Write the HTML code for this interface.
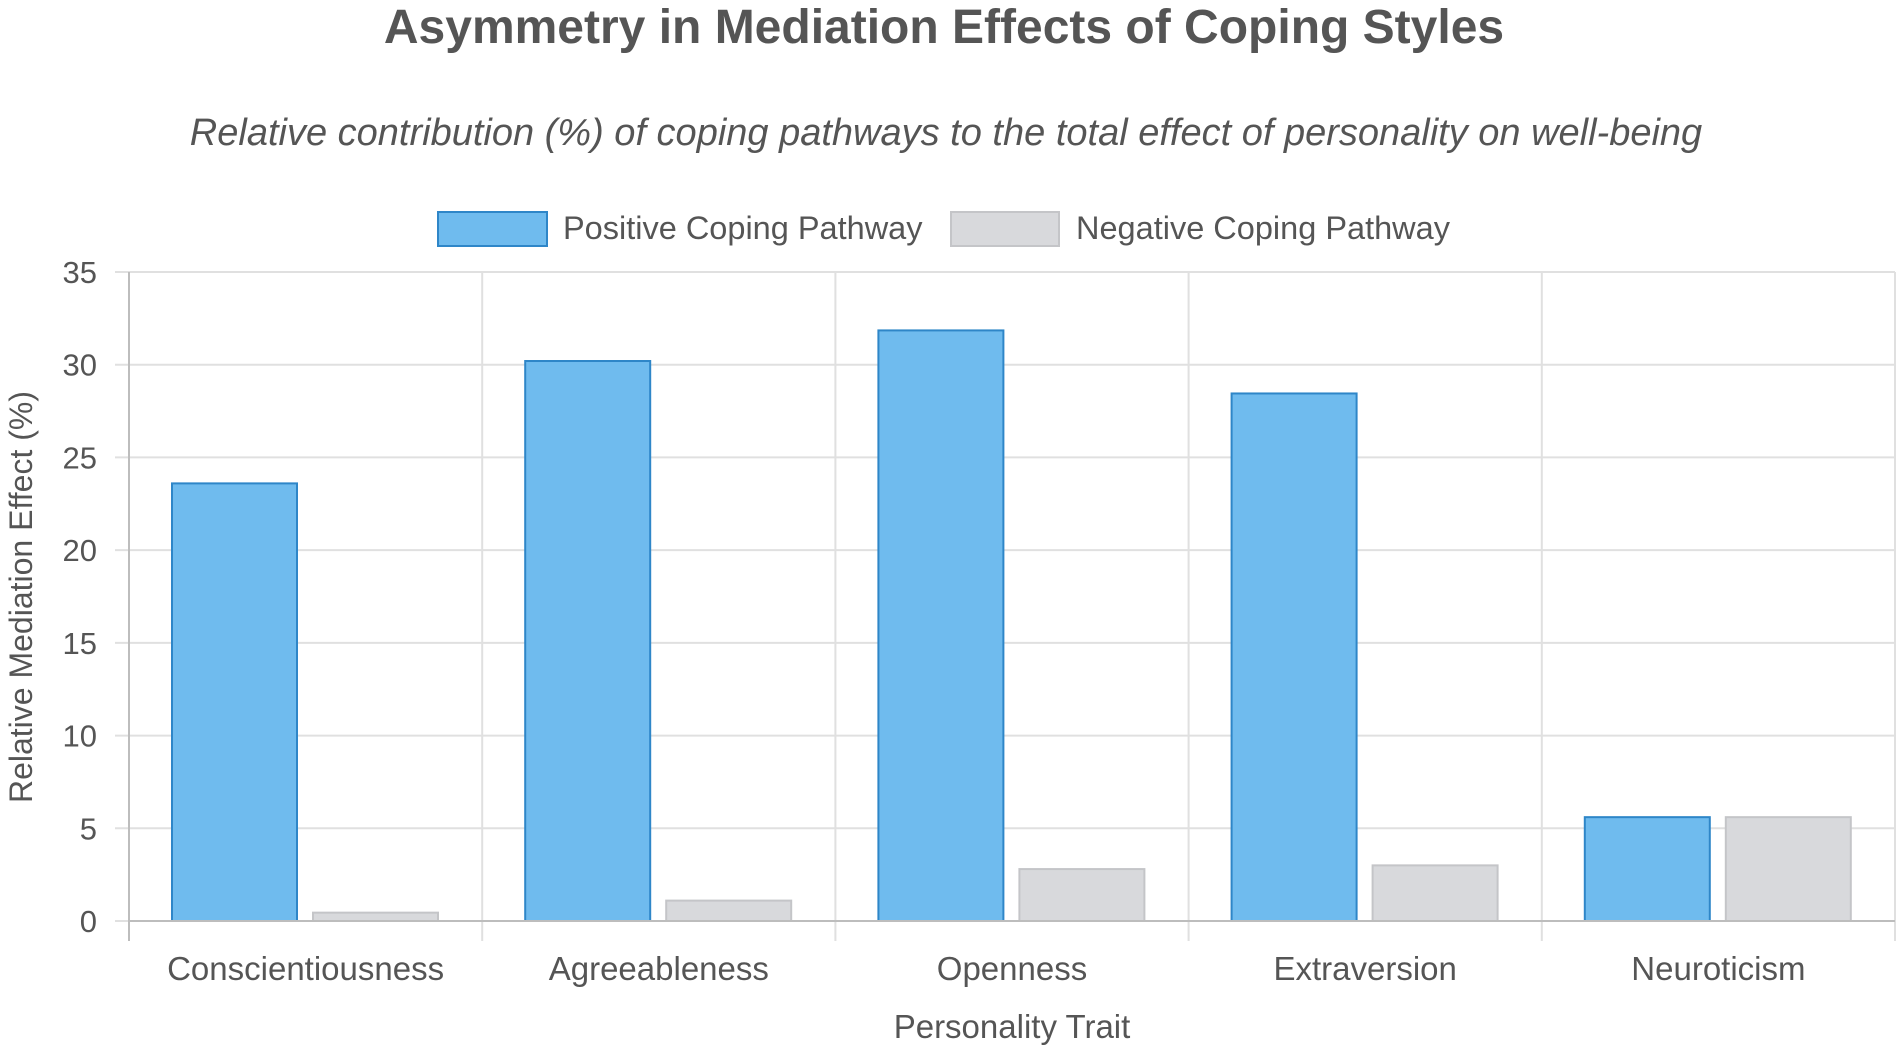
<!DOCTYPE html>
<html><head><meta charset="utf-8"><style>
body{margin:0;background:#fff;}
svg{display:block;font-family:"Liberation Sans",Arial,sans-serif;}
</style></head><body>
<svg id="chart" width="1902" height="1051" viewBox="0 0 1902 1051">
<text x="944" y="43" text-anchor="middle" font-size="48" font-weight="bold" fill="#555">Asymmetry in Mediation Effects of Coping Styles</text>
<text x="946" y="145" text-anchor="middle" font-size="38" font-style="italic" fill="#555">Relative contribution (%) of coping pathways to the total effect of personality on well-being</text>
<g>
<g>
<rect x="438" y="212" width="109" height="34" fill="#6fbbee" stroke="#2e86c8" stroke-width="2"/>
<text x="563" y="239" font-size="32.5" fill="#555">Positive Coping Pathway</text>
</g>
<g>
<rect x="951" y="212" width="108" height="34" fill="#d8d9dc" stroke="#c4c5c8" stroke-width="2"/>
<text x="1076" y="239" font-size="32.5" fill="#555">Negative Coping Pathway</text>
</g>
</g>
<g id="grid"></g>
<g id="bars"></g>
<g id="axes"></g>
<text transform="translate(32,597) rotate(-90)" text-anchor="middle" font-size="32" fill="#555">Relative Mediation Effect (%)</text>
<text x="1012" y="1038" text-anchor="middle" font-size="33" fill="#555">Personality Trait</text>
</svg>
<script>
const categories = ["Conscientiousness","Agreeableness","Openness","Extraversion","Neuroticism"];
const positiveValues = [23.6, 30.2, 31.85, 28.45, 5.6];
const negativeValues = [0.45, 1.1, 2.8, 3.0, 5.6];
const yTicks = [0,5,10,15,20,25,30,35];

const NS="http://www.w3.org/2000/svg";
const L=129,R=1895,T=272,B=921,YMAX=35;
const catW=(R-L)/categories.length;
function y(v){return B-(v/YMAX)*(B-T);}
function x(i){return L+i*catW;}
function mk(tag,attrs,parent){const e=document.createElementNS(NS,tag);for(const k in attrs)e.setAttribute(k,attrs[k]);parent.appendChild(e);return e;}
const grid=document.getElementById('grid'),bars=document.getElementById('bars'),axes=document.getElementById('axes');
yTicks.forEach(t=>{
  const ln=mk('line',{x1:L-14,x2:R,y1:y(t),y2:y(t),stroke:'#e0e0e0','stroke-width':2},grid);
  
  
  const tx=mk('text',{x:97,y:y(t)+11,'text-anchor':'end','font-size':31,fill:'#555'},axes);
  tx.textContent=t;
  
  
});
for(let i=0;i<=categories.length;i++){
  const ln=mk('line',{x1:x(i),x2:x(i),y1:T,y2:B+20,stroke:'#e0e0e0','stroke-width':2},grid);
  
  
}
const base=mk('line',{x1:L,x2:R,y1:B,y2:B,stroke:'#bdbdbd','stroke-width':2},axes);


const yl=mk('line',{x1:L,x2:L,y1:T,y2:B+20,stroke:'#bdbdbd','stroke-width':2},axes);


categories.forEach((c,i)=>{
  const x0=x(i)+43,w=125;
  const p=mk('rect',{x:x0,y:y(positiveValues[i]),width:w,height:B-y(positiveValues[i]),fill:'#6fbbee',stroke:'#2e86c8','stroke-width':2},bars);
  
  
  const n=mk('rect',{x:x0+141,y:y(negativeValues[i]),width:w,height:B-y(negativeValues[i]),fill:'#d8d9dc',stroke:'#c4c5c8','stroke-width':2},bars);
  
  
  const t=mk('text',{x:x(i)+catW/2,y:980,'text-anchor':'middle','font-size':33,fill:'#555'},axes);
  t.textContent=c;
  
  
});
</script>
</body></html>
